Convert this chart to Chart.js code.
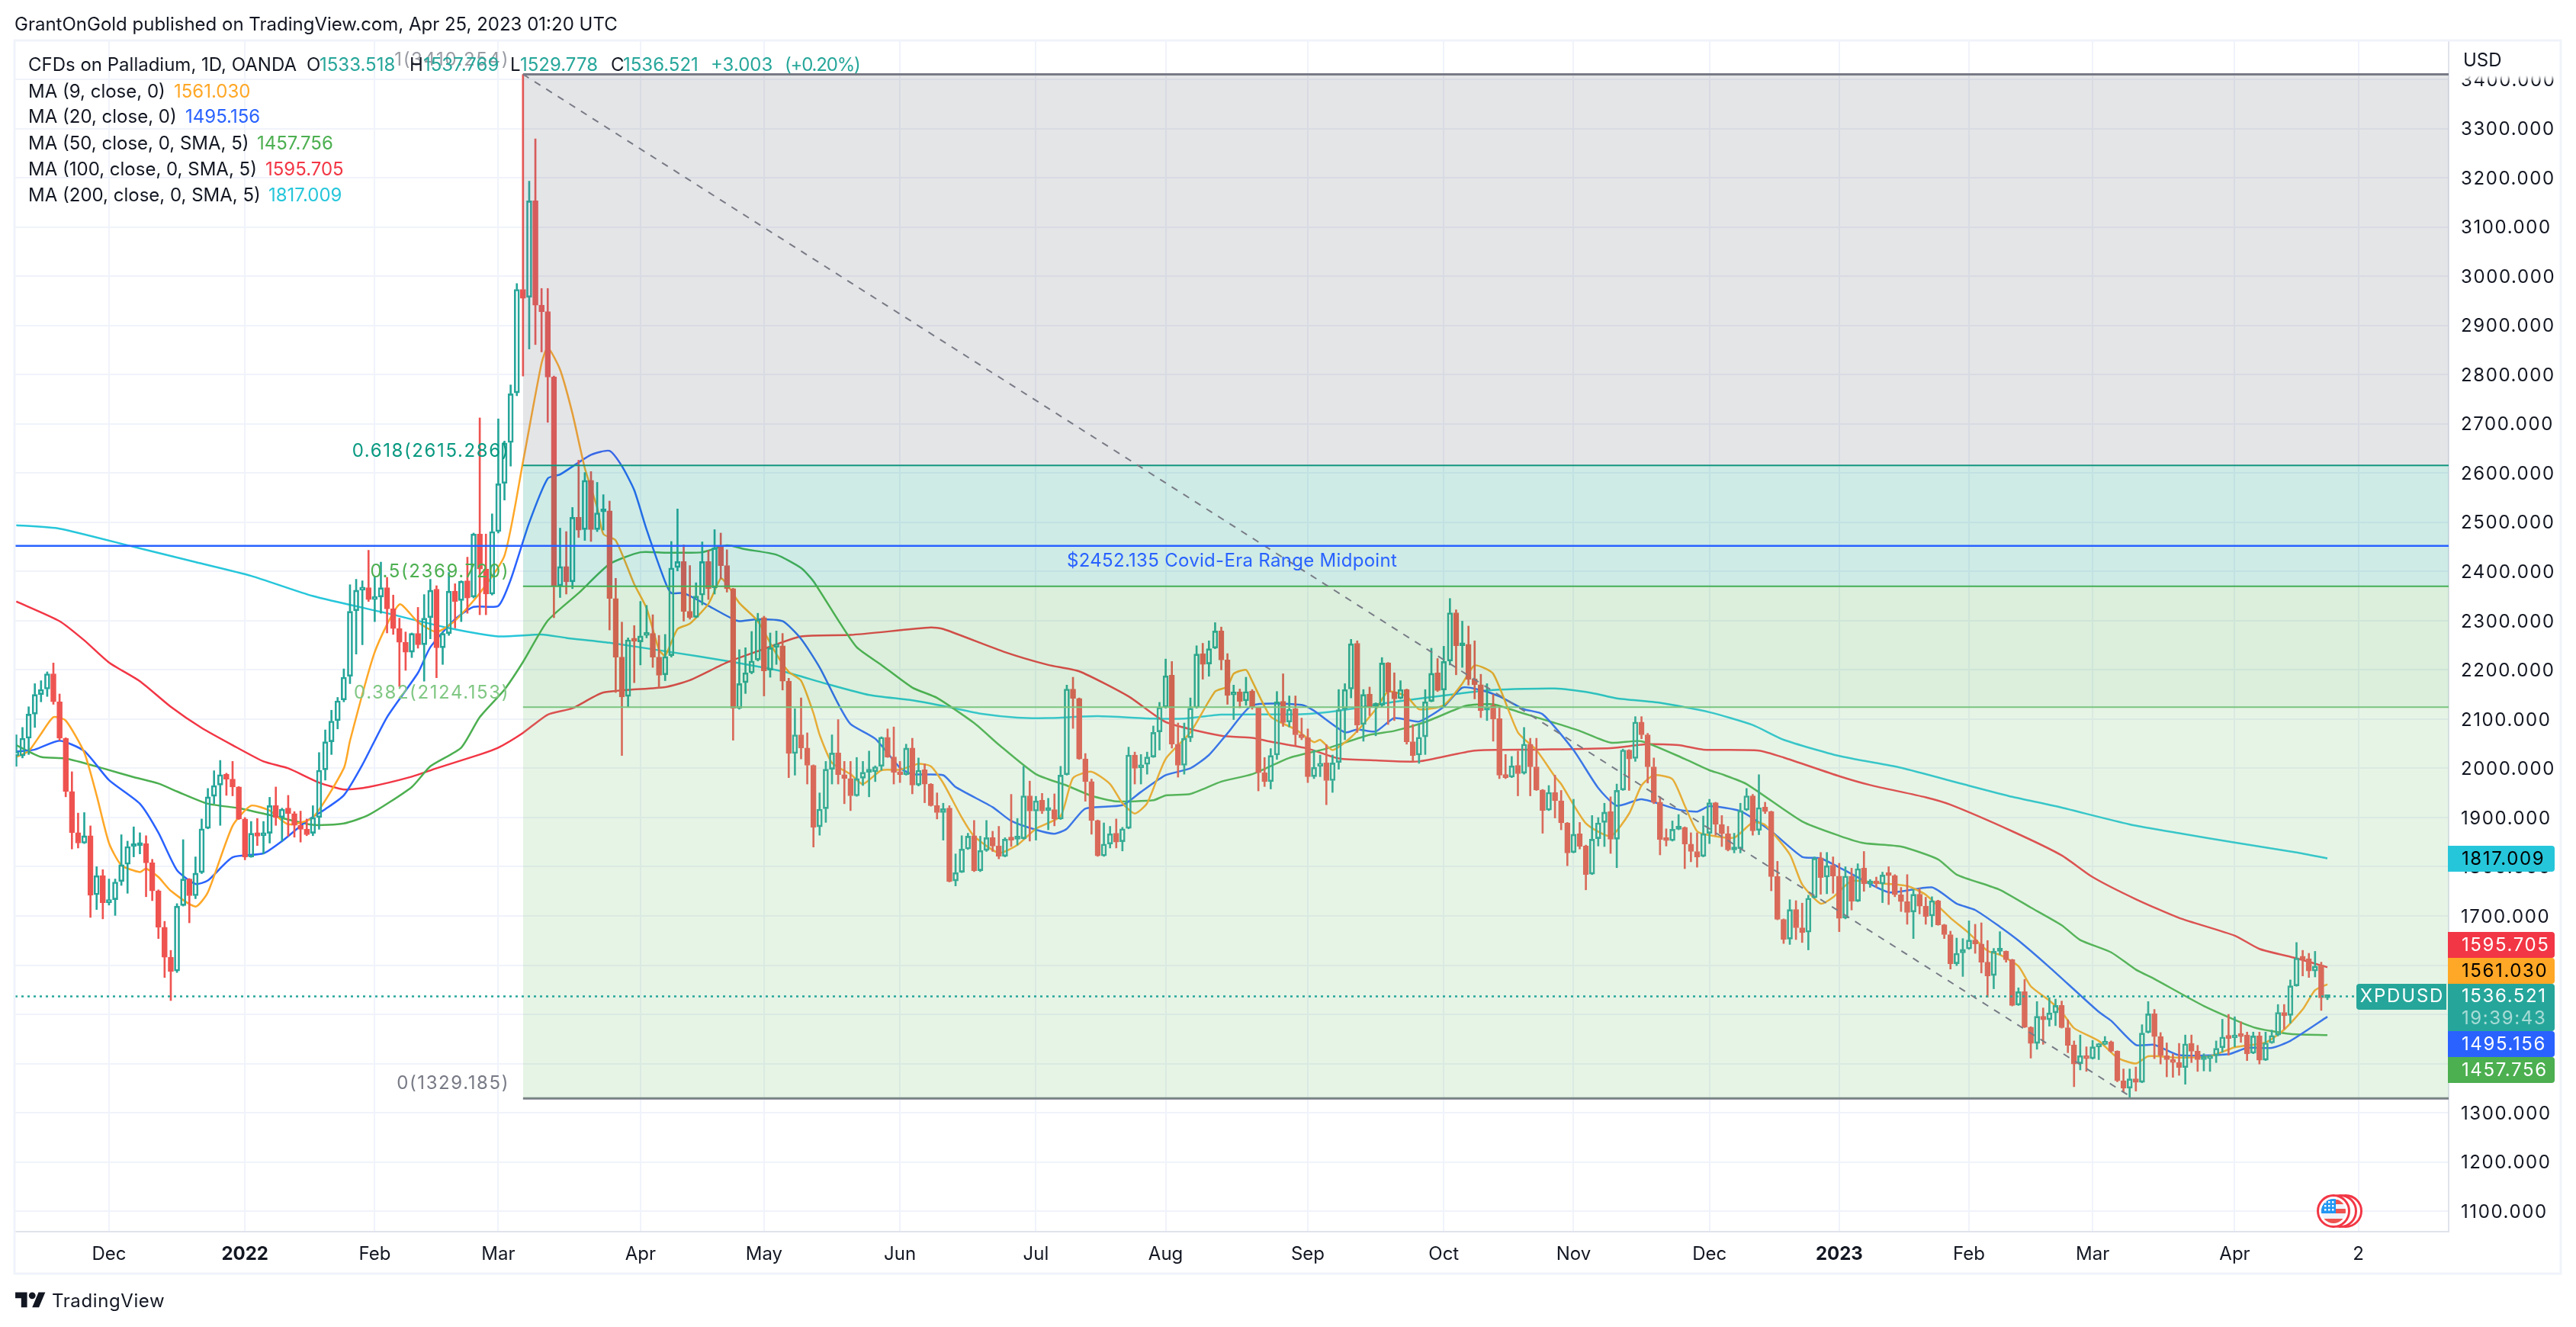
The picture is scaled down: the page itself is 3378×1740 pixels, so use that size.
<!DOCTYPE html>
<html>
<head>
<meta charset="utf-8">
<title>XPDUSD</title>
<script src="https://cdn.jsdelivr.net/npm/chart.js@4/dist/chart.umd.min.js"></script>
<style>
  html, body { margin: 0; padding: 0; background: #fff; }
  #wrap { position: relative; width: 3378px; height: 1740px; overflow: hidden; font-family: Inter, sans-serif; color: #131722; }
  canvas { position: absolute; left: 0; top: 0; }
  .t { position: absolute; font-size: 24px; line-height: 30px; white-space: nowrap; }
</style>
</head>
<body>
<div id="wrap">
  <canvas id="chart" width="3378" height="1740"></canvas>
  <div id="texts"></div>
  <svg style="position:absolute;left:20px;top:1690px" width="40" height="31" viewBox="0 0 36 28"><path fill="#131722" d="M14 22H7V11H0V4h14v18zM28 22h-8l7.5-18h8L28 22z"/><circle fill="#131722" cx="20" cy="8" r="4"/></svg>
</div>
<script>
// daily candles, [open, high, low, close]
const candles = [
[2025,2068,2004,2034],[2025,2083,2021,2061],[2061,2125,2028,2110],[2110,2172,2083,2150],[2150,2178,2135,2160],
[2161,2196,2146,2192],[2192,2214,2130,2135],[2135,2151,2057,2061],[2061,2062,1942,1953],[1953,1993,1836,1869],
[1869,1909,1838,1848],[1848,1910,1847,1863],[1863,1883,1697,1742],[1743,1800,1713,1782],[1782,1794,1694,1727],
[1727,1775,1722,1733],[1733,1775,1701,1769],[1770,1865,1762,1804],[1805,1852,1746,1841],[1841,1881,1820,1844],
[1843,1869,1826,1845],[1847,1863,1739,1808],[1808,1815,1731,1751],[1751,1753,1654,1677],[1677,1689,1575,1616],
[1616,1630,1528,1587],[1588,1725,1585,1720],[1721,1855,1720,1775],[1775,1776,1686,1741],[1741,1820,1735,1787],
[1788,1897,1786,1877],[1878,1959,1877,1942],[1943,1995,1928,1965],[1966,2016,1884,1987],[1988,1990,1945,1978],
[1978,2014,1944,1962],[1962,1963,1896,1897],[1897,1900,1814,1820],[1820,1892,1819,1868],[1869,1898,1843,1862],
[1863,1892,1826,1867],[1868,1941,1848,1924],[1924,1962,1884,1900],[1900,1919,1852,1917],[1919,1945,1862,1908],
[1908,1912,1860,1884],[1884,1913,1850,1876],[1876,1897,1863,1865],[1868,1924,1863,1900],[1900,2032,1876,1996],
[1997,2078,1976,2054],[2054,2118,2028,2096],[2097,2144,2080,2137],[2139,2202,2135,2185],[2187,2373,2172,2319],
[2320,2384,2232,2362],[2362,2381,2251,2367],[2367,2443,2339,2343],[2343,2390,2298,2348],[2348,2419,2315,2367],
[2367,2388,2275,2324],[2324,2352,2272,2284],[2284,2305,2166,2256],[2256,2277,2199,2236],[2236,2275,2225,2274],
[2274,2327,2244,2251],[2251,2353,2177,2305],[2306,2384,2263,2362],[2364,2371,2184,2245],[2245,2277,2211,2274],
[2274,2398,2270,2360],[2360,2375,2285,2339],[2341,2381,2298,2380],[2381,2429,2315,2346],[2348,2478,2346,2476],
[2476,2712,2312,2405],[2405,2476,2312,2354],[2354,2517,2352,2481],[2481,2710,2478,2578],[2579,2665,2545,2661],
[2662,2779,2614,2761],[2763,2985,2757,2973],[2973,3410,2797,2955],[2957,3193,2852,3153],[3153,3279,2861,2941],
[2941,2975,2846,2928],[2928,2975,2703,2795],[2795,2797,2306,2370],[2371,2488,2347,2410],[2410,2481,2354,2379],
[2379,2530,2365,2510],[2510,2626,2469,2484],[2485,2601,2463,2585],[2585,2603,2461,2485],[2485,2581,2481,2519],
[2521,2556,2484,2523],[2523,2543,2281,2345],[2345,2386,2154,2226],[2226,2297,2026,2145],[2146,2265,2125,2261],
[2261,2290,2174,2258],[2257,2339,2210,2269],[2270,2331,2265,2274],[2274,2312,2205,2226],[2226,2270,2163,2189],
[2190,2272,2178,2227],[2229,2461,2226,2407],[2408,2527,2401,2420],[2420,2454,2299,2319],[2319,2412,2303,2306],
[2307,2377,2306,2350],[2352,2460,2332,2420],[2420,2443,2343,2365],[2367,2485,2354,2448],[2450,2478,2385,2412],
[2412,2444,2358,2365],[2365,2366,2057,2122],[2122,2241,2120,2172],[2174,2245,2152,2194],[2194,2278,2192,2218],
[2220,2315,2218,2302],[2306,2309,2147,2198],[2199,2275,2185,2245],[2246,2279,2211,2250],[2249,2274,2159,2177],
[2177,2183,1981,2030],[2030,2121,1986,2068],[2068,2143,2019,2041],[2041,2072,1968,2006],[2006,2007,1840,1880],
[1881,1950,1864,1917],[1918,2014,1890,1998],[1998,2068,1968,2031],[2031,2099,1968,1987],[1987,2014,1928,1979],
[1979,2014,1914,1944],[1944,2022,1943,1979],[1980,2014,1965,1992],[1992,2035,1942,1994],[1993,2005,1973,2003],
[2004,2064,1996,2063],[2063,2080,2022,2023],[2023,2084,1968,1992],[1992,2014,1971,1987],[1987,2049,1986,2041],
[2041,2061,1948,1966],[1966,2021,1964,1996],[1997,2009,1930,1968],[1968,1969,1923,1924],[1924,1950,1897,1910],
[1910,1929,1854,1918],[1919,1924,1769,1770],[1771,1826,1761,1788],[1789,1863,1788,1836],[1836,1868,1835,1862],
[1863,1894,1790,1792],[1792,1862,1790,1833],[1833,1894,1831,1859],[1859,1872,1831,1842],[1842,1882,1816,1821],
[1821,1859,1820,1856],[1857,1947,1841,1854],[1856,1898,1844,1857],[1857,2004,1856,1944],[1944,1974,1852,1913],
[1913,1943,1854,1934],[1935,1949,1908,1913],[1914,1939,1875,1916],[1916,1948,1883,1897],[1897,2004,1896,1986],
[1987,2169,1986,2161],[2161,2185,2081,2142],[2142,2143,2018,2019],[2019,2030,1933,1973],[1973,1978,1866,1894],
[1894,1895,1821,1822],[1822,1889,1821,1846],[1846,1882,1838,1867],[1868,1897,1838,1850],[1851,1880,1832,1877],
[1878,2043,1877,2027],[2027,2033,1968,2000],[2001,2028,1968,2007],[2008,2033,1988,2023],[2023,2086,2022,2073],
[2074,2134,2037,2124],[2124,2222,2122,2188],[2189,2217,2041,2049],[2049,2092,1982,2006],[2006,2092,1988,2061],
[2062,2143,2054,2122],[2123,2249,2122,2232],[2233,2254,2181,2211],[2212,2259,2187,2243],[2244,2296,2243,2279],
[2279,2287,2200,2220],[2220,2233,2130,2148],[2149,2169,2099,2154],[2155,2161,2123,2136],[2137,2185,2128,2156],
[2157,2160,2120,2123],[2123,2124,1954,1991],[1991,2022,1963,1973],[1973,2040,1958,2026],[2027,2156,2018,2135],
[2136,2192,2085,2093],[2094,2147,2084,2120],[2121,2147,2047,2068],[2068,2102,2058,2062],[2062,2080,1971,1983],
[1983,2037,1979,2002],[2004,2027,1983,2010],[2011,2048,1926,1975],[1975,2027,1951,2011],[2012,2160,1998,2119],
[2120,2172,2058,2160],[2161,2262,2143,2253],[2254,2259,2073,2088],[2089,2160,2055,2150],[2151,2165,2107,2125],
[2126,2133,2066,2128],[2128,2225,2125,2214],[2214,2215,2089,2155],[2155,2194,2097,2141],[2142,2178,2141,2160],
[2160,2161,2049,2054],[2054,2089,2014,2026],[2027,2090,2010,2063],[2064,2160,2028,2135],[2136,2244,2135,2193],
[2194,2223,2156,2158],[2159,2248,2125,2217],[2218,2345,2210,2316],[2316,2322,2190,2249],[2249,2299,2205,2251],
[2252,2289,2169,2181],[2182,2259,2141,2170],[2170,2191,2103,2117],[2118,2172,2097,2125],[2127,2150,2055,2100],
[2101,2125,1979,1986],[1987,2028,1979,1981],[1982,2024,1981,2005],[2006,2035,1944,1989],[1990,2083,1988,2049],
[2049,2061,1944,2003],[2003,2061,1955,1956],[1956,1957,1868,1914],[1915,1965,1914,1951],[1951,1986,1899,1934],
[1934,1955,1875,1889],[1889,1890,1802,1828],[1829,1937,1828,1866],[1867,1890,1836,1841],[1842,1844,1753,1784],
[1785,1904,1784,1856],[1857,1900,1842,1889],[1890,1929,1841,1911],[1912,1942,1827,1856],[1856,1968,1798,1955],
[1956,2039,1955,2037],[2037,2038,1955,2019],[2020,2105,2014,2094],[2094,2105,2060,2068],[2068,2071,1970,2003],
[2003,2021,1928,1931],[1931,1942,1824,1855],[1856,1877,1842,1853],[1853,1893,1852,1876],[1876,1906,1875,1878],
[1880,1881,1796,1846],[1846,1869,1810,1831],[1831,1869,1799,1820],[1821,1903,1820,1867],[1868,1937,1847,1930],
[1930,1931,1864,1886],[1886,1904,1841,1867],[1867,1882,1832,1834],[1834,1868,1828,1836],[1837,1929,1828,1914],
[1915,1959,1914,1944],[1944,1947,1864,1873],[1874,1987,1865,1920],[1921,1931,1908,1912],[1912,1913,1751,1780],
[1780,1811,1692,1693],[1693,1694,1644,1652],[1653,1733,1642,1713],[1713,1731,1652,1676],[1676,1726,1646,1666],
[1667,1742,1631,1736],[1737,1820,1736,1817],[1818,1829,1744,1778],[1779,1829,1745,1802],[1803,1820,1746,1781],
[1781,1807,1668,1695],[1696,1800,1694,1781],[1781,1797,1712,1730],[1730,1806,1729,1796],[1797,1831,1750,1765],
[1765,1774,1758,1769],[1770,1779,1758,1765],[1765,1789,1727,1783],[1783,1800,1723,1782],[1782,1784,1739,1743],
[1743,1758,1709,1729],[1729,1784,1683,1707],[1708,1754,1654,1744],[1744,1756,1704,1720],[1720,1738,1683,1699],
[1700,1739,1678,1731],[1731,1732,1681,1682],[1682,1683,1654,1662],[1662,1669,1592,1603],[1603,1655,1599,1624],
[1625,1654,1577,1632],[1633,1690,1632,1651],[1651,1683,1624,1643],[1643,1686,1584,1606],[1606,1650,1535,1578],
[1579,1634,1552,1628],[1628,1668,1621,1629],[1628,1629,1606,1611],[1611,1612,1517,1518],[1519,1554,1518,1546],
[1546,1571,1473,1474],[1474,1475,1411,1441],[1441,1526,1429,1496],[1496,1513,1439,1489],[1489,1534,1476,1503],
[1503,1531,1477,1518],[1518,1527,1472,1473],[1473,1489,1422,1437],[1438,1446,1353,1399],[1400,1458,1387,1416],
[1416,1434,1384,1410],[1410,1447,1409,1434],[1434,1441,1408,1439],[1439,1455,1438,1444],[1444,1446,1423,1425],
[1425,1426,1363,1365],[1365,1389,1342,1350],[1350,1389,1331,1369],[1369,1393,1344,1362],[1362,1479,1361,1462],
[1463,1526,1462,1501],[1501,1510,1410,1455],[1455,1463,1399,1416],[1416,1442,1373,1408],[1408,1420,1372,1402],
[1402,1441,1376,1392],[1392,1458,1358,1440],[1441,1458,1402,1425],[1425,1437,1384,1408],[1408,1420,1385,1411],
[1410,1417,1384,1415],[1416,1446,1402,1431],[1432,1490,1423,1454],[1455,1500,1417,1451],[1452,1495,1434,1458],
[1458,1485,1443,1455],[1458,1464,1406,1420],[1421,1464,1420,1456],[1456,1464,1399,1407],[1407,1464,1406,1442],
[1442,1468,1441,1457],[1458,1520,1456,1504],[1504,1520,1470,1497],[1498,1570,1482,1558],[1558,1646,1557,1614],
[1614,1630,1578,1612],[1613,1624,1575,1588],[1588,1628,1576,1598],[1600,1606,1508,1533.518],[1533.518,1537.769,1529.778,1536.521]
];

// moving averages as [bar, price]
const ma9 = [[0,2023],[2,2035],[4,2070],[6,2104],[8,2097],[11,2032],[13,1945],[15,1848],[17,1803],[20,1789],[21,1796],[23,1779],[25,1751],[29,1719],[31,1748],[35,1883],[38,1924],[41,1914],[44,1886],[48,1900],[53,2000],[54,2056],[58,2236],[62,2333],[65,2297],[68,2277],[71,2300],[75,2356],[79,2432],[82,2623],[85,2823],[86,2855],[88,2810],[90,2721],[92,2610],[94,2530],[95,2476],[97,2463],[100,2374],[102,2325],[104,2241],[105,2229],[107,2283],[109,2294],[112,2334],[114,2386],[115,2374],[117,2336],[120,2299],[123,2232],[125,2196],[127,2178],[129,2112],[130,2068],[132,2011],[135,1988],[137,1968],[140,1996],[143,1997],[146,2009],[148,2004],[150,1970],[153,1900],[155,1862],[159,1828],[162,1844],[165,1877],[169,1903],[171,1980],[174,1993],[177,1968],[179,1929],[181,1908],[183,1929],[186,2019],[190,2073],[194,2156],[196,2166],[197,2192],[199,2200],[200,2177],[203,2105],[207,2079],[210,2053],[211,2058],[213,2037],[216,2063],[220,2120],[222,2156],[225,2146],[227,2120],[231,2128],[234,2172],[236,2209],[239,2192],[243,2073],[246,2037],[249,1983],[250,1968],[254,1888],[258,1862],[261,1908],[263,1965],[265,1986],[268,1978],[270,1924],[272,1872],[274,1864],[278,1859],[281,1890],[283,1885],[287,1825],[289,1764],[292,1725],[294,1738],[297,1771],[302,1766],[306,1761],[309,1743],[313,1696],[316,1665],[319,1629],[321,1621],[324,1598],[326,1557],[329,1528],[331,1505],[333,1472],[337,1446],[340,1412],[343,1400],[345,1415],[350,1412],[355,1415],[359,1433],[364,1443],[367,1469],[370,1510],[372,1549],[374,1561.03]];
const ma20 = [[0,2034],[3,2038],[7,2056],[11,2035],[15,1976],[20,1928],[23,1869],[26,1793],[29,1765],[31,1772],[35,1819],[40,1827],[43,1852],[47,1893],[50,1917],[53,1945],[56,2007],[60,2104],[65,2194],[67,2246],[71,2303],[74,2328],[78,2330],[80,2383],[83,2499],[86,2589],[88,2597],[93,2637],[96,2645],[98,2614],[100,2565],[102,2485],[105,2379],[106,2356],[108,2356],[112,2330],[116,2303],[117,2299],[120,2303],[124,2299],[127,2263],[130,2205],[133,2131],[135,2090],[139,2060],[143,2001],[145,1988],[150,1986],[152,1962],[158,1921],[161,1893],[165,1875],[168,1867],[170,1877],[173,1918],[179,1925],[182,1952],[186,1986],[190,2000],[193,2027],[196,2071],[200,2128],[208,2129],[210,2117],[215,2073],[217,2079],[220,2075],[223,2102],[227,2095],[231,2125],[234,2164],[237,2159],[240,2146],[244,2120],[247,2110],[252,2037],[256,1960],[259,1924],[263,1937],[269,1916],[272,1912],[274,1923],[279,1913],[284,1872],[289,1820],[292,1817],[296,1792],[303,1748],[310,1758],[314,1725],[317,1712],[321,1678],[324,1650],[329,1596],[337,1505],[339,1487],[343,1438],[346,1438],[350,1417],[358,1419],[361,1432],[365,1432],[368,1446],[374,1495.156]];
const ma50 = [[0,2047],[4,2023],[8,2020],[14,2000],[19,1982],[23,1969],[26,1953],[31,1928],[36,1919],[41,1905],[48,1885],[53,1888],[57,1905],[64,1962],[67,2004],[72,2042],[75,2104],[79,2160],[82,2216],[86,2300],[91,2356],[96,2415],[101,2439],[105,2438],[111,2439],[115,2453],[118,2445],[123,2434],[127,2407],[129,2380],[133,2301],[136,2246],[140,2210],[145,2164],[149,2143],[155,2092],[159,2048],[165,1988],[170,1965],[174,1944],[178,1933],[184,1935],[186,1945],[190,1948],[195,1973],[200,1988],[206,2021],[212,2040],[219,2068],[223,2076],[228,2094],[233,2120],[235,2128],[239,2130],[243,2115],[249,2092],[253,2076],[258,2052],[263,2055],[270,2019],[274,1996],[276,1988],[280,1968],[289,1892],[295,1863],[299,1848],[305,1841],[311,1815],[314,1784],[321,1753],[326,1717],[331,1681],[334,1651],[339,1626],[343,1591],[346,1572],[354,1517],[362,1474],[368,1460],[374,1457.756]];
const ma100 = [[0,2339],[7,2299],[11,2260],[15,2215],[20,2177],[25,2125],[30,2082],[35,2047],[40,2014],[44,2000],[49,1971],[53,1957],[57,1962],[64,1983],[68,2000],[75,2028],[78,2042],[82,2072],[86,2109],[90,2122],[95,2154],[105,2165],[109,2179],[115,2215],[120,2238],[127,2268],[135,2271],[148,2286],[150,2283],[160,2236],[167,2210],[172,2197],[180,2146],[186,2094],[195,2066],[200,2062],[203,2054],[209,2040],[214,2020],[220,2016],[227,2014],[236,2036],[246,2038],[258,2041],[264,2049],[269,2047],[273,2038],[282,2036],[286,2022],[295,1984],[300,1966],[309,1941],[313,1926],[323,1872],[331,1823],[336,1779],[343,1734],[350,1696],[359,1660],[363,1633],[369,1614],[374,1595.705]];
const ma200 = [[0,2494],[7,2487],[19,2450],[29,2419],[38,2391],[48,2350],[60,2315],[70,2285],[78,2268],[85,2272],[89,2265],[96,2255],[106,2236],[115,2218],[124,2197],[131,2172],[138,2149],[145,2138],[151,2124],[156,2111],[162,2103],[167,2102],[175,2106],[184,2101],[189,2101],[195,2109],[208,2110],[214,2117],[223,2135],[233,2151],[239,2159],[249,2162],[255,2153],[259,2142],[266,2133],[274,2114],[281,2088],[286,2058],[295,2025],[305,2001],[315,1968],[323,1942],[330,1923],[342,1886],[350,1868],[359,1849],[369,1829],[374,1817.009]];

const UP = "#26a69a", DOWN = "#ef5350";
const xMin = -0.17, xMax = 393.62, yMin = 1058.4, yMax = 3477.5;
const lastClose = 1536.521, midpoint = 2452.135;
const fibStart = 82;
const NUM_SPACING = "1.6px";

// month gridlines sit on these bars
const monthTicks = {15:"Dec",37:"2022",58:"Feb",78:"Mar",101:"Apr",121:"May",143:"Jun",165:"Jul",186:"Aug",209:"Sep",231:"Oct",252:"Nov",274:"Dec",295:"2023",316:"Feb",336:"Mar",359:"Apr",379:"2"};
const priceTicks = [];
for(let p=1100; p<=3400; p+=100) priceTicks.push(p);

// fib levels, each one fills down to the next
const fibLevels = [
    {ratio:"1", price:3410.254, line:"#787b86", fill:"rgba(120,123,134,0.2)", to:2615.286, text:"rgba(120,123,134,0.75)"},
    {ratio:"0.618", price:2615.286, line:"#089981", fill:"rgba(8,153,129,0.2)", to:2369.72, text:"#089981"},
    {ratio:"0.5", price:2369.72, line:"#4caf50", fill:"rgba(76,175,80,0.2)", to:2124.153, text:"#4caf50"},
    {ratio:"0.382", price:2124.153, line:"#81c784", fill:"rgba(129,199,132,0.2)", to:1329.185, text:"#81c784"},
    {ratio:"0", price:1329.185, line:"#787b86", text:"#787b86"}
];

function maLine(label, data, color){
    return {type:"line", label:label, data:data, borderColor:color, borderWidth:2.5, pointRadius:0, tension:0.2, order:3};
}

function bodyColor(c, filled){
    if(c[3] >= c[0]) return filled ? "rgba(0,0,0,0)" : UP;
    return DOWN;
}

const datasets = [
    {label:"wick high", data:candles.map((c,i)=>({x:i, y:[Math.max(c[0],c[3]), c[1]]})), backgroundColor:candles.map(c=>bodyColor(c,false)), barThickness:2, grouped:false, order:2},
    {label:"wick low", data:candles.map((c,i)=>({x:i, y:[c[2], Math.min(c[0],c[3])]})), backgroundColor:candles.map(c=>bodyColor(c,false)), barThickness:2, grouped:false, order:2},
    {label:"body", data:candles.map((c,i)=>({x:i, y:[c[0], c[3]]})), backgroundColor:candles.map(c=>bodyColor(c,true)), borderColor:candles.map(c=>bodyColor(c,false)), borderWidth:2, borderSkipped:false, barThickness:7, minBarLength:4, grouped:false, order:2},
    maLine("MA 9", ma9, "#ffa726"),
    maLine("MA 20", ma20, "#2962ff"),
    maLine("MA 50", ma50, "#4caf50"),
    maLine("MA 100", ma100, "#f23645"),
    maLine("MA 200", ma200, "#26c6da"),
    {type:"line", label:"trend", data:[[fibStart,3410.254],[342.6,1329.185]], borderColor:"#787b86", borderWidth:2, borderDash:[9,9], pointRadius:0, order:1},
    {type:"line", label:"last", data:[[xMin,lastClose],[378.7,lastClose]], borderColor:UP, borderWidth:2.5, borderDash:[3,5], pointRadius:0, order:1},
    {type:"line", label:"midpoint", data:[[xMin,midpoint],[xMax,midpoint]], borderColor:"#2962ff", borderWidth:2.5, pointRadius:0, order:0}
];
fibLevels.forEach(f => {
    datasets.push({type:"line", label:"fib "+f.ratio, data:[[fibStart,f.price],[xMax,f.price]], borderColor:f.line,
        borderWidth:f.ratio=="1"||f.ratio=="0"?3:2, pointRadius:0, order:1,
        fill:f.to ? {target:{value:f.to}, above:f.fill, below:f.fill} : false});
});

// price tags on the axis, already stacked so they do not overlap
const tags = [
    {y:1126, h:34, bg:"#26c6da", fg:"#000", text:"1817.009"},
    {y:1239, h:34, bg:"#f23645", fg:"#fff", text:"1595.705"},
    {y:1273, h:34, bg:"#ffa726", fg:"#000", text:"1561.030"},
    {y:1321, h:62, bg:"#26a69a", fg:"#fff", text:"1536.521", sub:"19:39:43"},
    {y:1369, h:34, bg:"#2962ff", fg:"#fff", text:"1495.156"},
    {y:1403, h:34, bg:"#4caf50", fg:"#fff", text:"1457.756"}
];

function roundBox(ctx, x, y, w, h, r){
    ctx.beginPath();
    ctx.roundRect(x, y, w, h, r);
    ctx.fill();
}

function drawFlag(ctx, cx, cy){
    [16,9].forEach(off => {
        ctx.beginPath();
        ctx.arc(cx+off, cy, 20.5, 0, Math.PI*2);
        ctx.fillStyle = "#fff";
        ctx.fill();
        ctx.strokeStyle = "#f23645";
        ctx.lineWidth = 3;
        ctx.stroke();
    });
    ctx.beginPath();
    ctx.arc(cx, cy, 20.5, 0, Math.PI*2);
    ctx.fillStyle = "#fff";
    ctx.fill();
    ctx.stroke();
    ctx.save();
    ctx.beginPath();
    ctx.arc(cx, cy, 16, 0, Math.PI*2);
    ctx.clip();
    ctx.fillStyle = "#f0f3fa";
    ctx.fillRect(cx-17, cy-17, 34, 34);
    ctx.fillStyle = "#ef5350";
    ctx.fillRect(cx-17, cy-15, 34, 6);
    ctx.fillRect(cx-17, cy-3, 34, 6);
    ctx.fillRect(cx-17, cy+10, 34, 7);
    ctx.fillStyle = "#2196f3";
    ctx.fillRect(cx-17, cy-17, 20, 20);
    ctx.fillStyle = "#fff";
    for(let r=0; r<3; r++){
        for(let k=0; k<3; k++){
            ctx.fillRect(cx-12+k*5, cy-13+r*5, 2.5, 2.5);
        }
    }
    ctx.restore();
}

const decorations = {
    id: "decorations",
    // price labels are wider in the original than Inter digits
    beforeDraw(chart){
        const y = chart.scales.y, ctx = chart.ctx;
        if(y._wideLabels) return;
        y._wideLabels = true;
        const drawLabels = y.drawLabels;
        y.drawLabels = function(area){
            ctx.letterSpacing = NUM_SPACING;
            drawLabels.call(this, area);
            ctx.letterSpacing = "0px";
        };
    },
    afterDatasetsDraw(chart){
        const ctx = chart.ctx, y = chart.scales.y;
        ctx.save();
        ctx.textBaseline = "middle";
        ctx.font = "24px Inter";
        // fib labels
        ctx.textAlign = "right";
        ctx.letterSpacing = NUM_SPACING;
        fibLevels.forEach(f => {
            ctx.fillStyle = f.text;
            ctx.fillText(f.ratio+"("+f.price.toFixed(3)+")", 668, y.getPixelForValue(f.price)-19);
        });
        ctx.letterSpacing = "0.3px";
        ctx.textAlign = "left";
        ctx.fillStyle = "#2962ff";
        ctx.fillText("$2452.135 Covid-Era Range Midpoint", 1399, y.getPixelForValue(midpoint)+20);
        ctx.letterSpacing = "0px";
        ctx.restore();
    },
    afterDraw(chart){
        const ctx = chart.ctx;
        ctx.save();
        // outer frame
        ctx.strokeStyle = "#f0f3fa";
        ctx.lineWidth = 3;
        ctx.strokeRect(19, 53, 3339, 1617);
        // 3400 label fades under the USD header
        ctx.fillStyle = "#fff";
        ctx.fillRect(3213, 55, 143, 44);
        const g = ctx.createLinearGradient(0, 99, 0, 108);
        g.addColorStop(0, "#fff");
        g.addColorStop(1, "rgba(255,255,255,0)");
        ctx.fillStyle = g;
        ctx.fillRect(3213, 99, 143, 9);
        ctx.textBaseline = "middle";
        ctx.textAlign = "left";
        ctx.font = "24px Inter";
        ctx.fillStyle = "#131722";
        ctx.fillText("USD", 3230, 80);

        drawFlag(ctx, 3060, 1588);

        // XPDUSD tag and axis tags
        ctx.fillStyle = UP;
        roundBox(ctx, 3090, 1290, 118, 34, [4,0,0,4]);
        ctx.fillStyle = "#fff";
        ctx.textAlign = "center";
        ctx.letterSpacing = "1.8px";
        ctx.fillText("XPDUSD", 3150, 1307);
        ctx.textAlign = "left";
        ctx.letterSpacing = NUM_SPACING;
        tags.forEach(t => {
            ctx.fillStyle = t.bg;
            roundBox(ctx, 3210, t.y-t.h/2, 140, t.h, [0,4,4,0]);
            ctx.fillStyle = t.fg;
            if(t.sub){
                ctx.fillText(t.text, 3228, t.y-14);
                ctx.fillStyle = "rgba(255,255,255,0.6)";
                ctx.fillText(t.sub, 3228, t.y+15);
            }else{
                ctx.fillText(t.text, 3228, t.y+1);
            }
        });
        ctx.letterSpacing = "0px";
        ctx.restore();
    }
};

new Chart(document.getElementById("chart"), {
    type: "bar",
    data: {datasets: datasets},
    plugins: [decorations],
    options: {
        responsive: false,
        animation: false,
        events: [],
        layout: {padding: {left:20, top:54, right:20, bottom:70}},
        plugins: {legend:{display:false}, tooltip:{enabled:false}},
        scales: {
            x: {
                type: "linear", offset: false, min: xMin, max: xMax,
                afterBuildTicks: s => { s.ticks = Object.keys(monthTicks).map(v => ({value:Number(v)})); },
                afterFit: s => { s.height = 55; },
                grid: {color:"#f0f3fa", lineWidth:2, drawTicks:false, offset:false},
                border: {color:"#e0e3eb", width:2},
                ticks: {
                    autoSkip:false, maxRotation:0, padding:15, color:"#131722",
                    callback: v => monthTicks[v],
                    font: c => ({family:"Inter", size:24, weight:(c.tick && (c.tick.value==37 || c.tick.value==295)) ? "700" : "400"})
                }
            },
            y: {
                position: "right", min: yMin, max: yMax,
                afterBuildTicks: s => { s.ticks = priceTicks.map(v => ({value:v})); },
                afterFit: s => { s.width = 147; },
                grid: {color:"#f0f3fa", lineWidth:2, drawTicks:false},
                border: {color:"#e0e3eb", width:2},
                ticks: {
                    padding:16, color:"#131722", autoSkip:false, labelOffset:1.5,
                    callback: v => Number(v).toFixed(3),
                    font: {family:"Inter", size:24}
                }
            }
        }
    }
});

// header, legend and footer text
const texts = [
    [19,32,"GrantOnGold published on TradingView.com, Apr 25, 2023 01:20 UTC"],
    [37,85,"CFDs on Palladium, 1D, OANDA"],
    [402,85,"O"],[419,85,"1533.518",UP],[537,85,"H"],[555,85,"1537.769",UP],[669,85,"L"],[682,85,"1529.778",UP],
    [801,85,"C"],[817,85,"1536.521",UP],[932,85,"+3.003",UP],[1029,85,"(+0.20%)",UP,"-1.2px"],
    [37,120,"MA (9, close, 0)"],[228,120,"1561.030","#ffa726"],
    [37,153,"MA (20, close, 0)"],[243,153,"1495.156","#2962ff"],
    [37,188,"MA (50, close, 0, SMA, 5)"],[337,188,"1457.756","#4caf50"],
    [37,222,"MA (100, close, 0, SMA, 5)"],[348,222,"1595.705","#f23645"],
    [37,256,"MA (200, close, 0, SMA, 5)"],[352,256,"1817.009","#26c6da"],
    [68,1706,"TradingView",null,"0.6px"]
];
const holder = document.getElementById("texts");
texts.forEach(t => {
    let d = document.createElement("div");
    d.className = "t";
    d.style.left = t[0]+"px";
    d.style.top = (t[1]-15)+"px";
    if(t[3]) d.style.color = t[3];
    if(t[4]) d.style.letterSpacing = t[4];
    d.textContent = t[2];
    holder.appendChild(d);
});
</script>
</body>
</html>
